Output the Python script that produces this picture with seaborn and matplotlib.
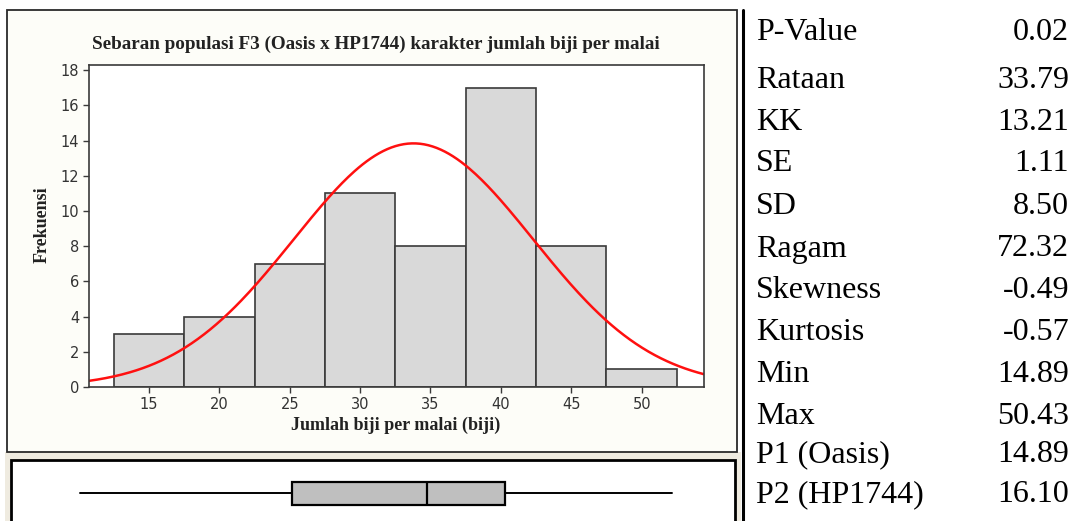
import numpy as np
import pandas as pd
import matplotlib
matplotlib.use("Agg")
import matplotlib.pyplot as plt
from matplotlib.patches import Rectangle
from matplotlib.lines import Line2D
import seaborn as sns

# ---------------- data ----------------
bin_centers = [15, 20, 25, 30, 35, 40, 45, 50]
counts = [3, 4, 7, 11, 8, 17, 8, 1]
bin_width = 5
mean_val = 33.79
sd_val = 8.50

box_min = 14.89
box_q1 = 27.6
box_median = 35.7
box_q3 = 40.4
box_max = 50.43

x_ticks = [15, 20, 25, 30, 35, 40, 45, 50]
y_ticks = [0, 2, 4, 6, 8, 10, 12, 14, 16, 18]

stat_labels = ["P-Value", "Rataan", "KK", "SE", "SD", "Ragam", "Skewness",
               "Kurtosis", "Min", "Max", "P1 (Oasis)", "P2 (HP1744)"]
stat_values = ["0.02", "33.79", "13.21", "1.11", "8.50", "72.32", "-0.49",
               "-0.57", "14.89", "50.43", "14.89", "16.10"]

title = "Sebaran populasi F3 (Oasis x HP1744) karakter jumlah biji per malai"
xlabel = "Jumlah biji per malai (biji)"
ylabel = "Frekuensi"

# ---------------- layout helpers ----------------
W, H = 1079, 521
sns.set_style("ticks")
plt.rcParams["font.family"] = ["DejaVu Sans"]

fig = plt.figure(figsize=(W / 100, H / 100), dpi=100)
fig.patch.set_facecolor("white")


def box_px(l, t, r, b):
    return [l / W, 1 - b / H, (r - l) / W, (b - t) / H]


def fig_rect(l, t, r, b, **kw):
    rect = Rectangle((l / W, 1 - b / H), (r - l) / W, (b - t) / H,
                     transform=fig.transFigure, **kw)
    fig.add_artist(rect)
    return rect


def fx(x):
    return x / W


def fy(y):
    return 1 - y / H


# panel backgrounds
fig_rect(5, 452, 741, 523, facecolor="#efebe0", edgecolor="none", zorder=-10)
fig_rect(7, 10, 737, 452, facecolor="#fdfdf8", edgecolor="#2a2a2a",
         linewidth=1.3, zorder=-9)
fig_rect(11, 460, 735, 526, facecolor="white", edgecolor="black",
         linewidth=2.0, zorder=-9)

# ---------------- histogram ----------------
ax = fig.add_axes(box_px(89, 65, 704, 387))
ax.set_facecolor("white")
edges = [c - bin_width / 2 for c in bin_centers] + [bin_centers[-1] + bin_width / 2]
sns.histplot(x=bin_centers, weights=counts, bins=edges, ax=ax,
             color="#d9d9d9", edgecolor="#3a3a3a", linewidth=1.2, alpha=1.0)

xlim = (10.74, 54.43)
xs = np.linspace(xlim[0], xlim[1], 300)
n_total = sum(counts)
ys = n_total * bin_width * np.exp(-0.5 * ((xs - mean_val) / sd_val) ** 2) / (sd_val * np.sqrt(2 * np.pi))
sns.lineplot(x=xs, y=ys, ax=ax, color="#ff1010", linewidth=1.8)

ax.set_xlim(*xlim)
ax.set_ylim(0, 18.3)
ax.set_xticks(x_ticks)
ax.set_yticks(y_ticks)
ax.set_xlabel("")
ax.set_ylabel("")
for s in ax.spines.values():
    s.set_visible(True)
    s.set_color("#3a3a3a")
    s.set_linewidth(1.2)
ax.tick_params(axis="both", direction="out", length=4, width=1,
               color="#3a3a3a", labelcolor="#333333", labelsize=10.5,
               bottom=True, left=True, top=False, right=False, pad=3)

fig.text(fx(376), fy(44), title, ha="center", va="center",
         fontsize=13.8, fontweight="bold", family="Liberation Serif", color="#222222")
fig.text(fx(396), fy(425), xlabel, ha="center", va="center",
         fontsize=13, fontweight="bold", family="Liberation Serif", color="#222222")
fig.text(fx(42), fy(225), ylabel, ha="center", va="center", rotation=90,
         fontsize=13, fontweight="bold", family="Liberation Serif", color="#222222")

# ---------------- boxplot ----------------
bax = fig.add_axes(box_px(11, 460, 735, 521))
bax.set_xlim(10.75, 54.2)
bax.set_ylim(-28, 33)
stats = [dict(med=box_median, q1=box_q1, q3=box_q3, whislo=box_min, whishi=box_max, fliers=[])]
bax.bxp(stats, positions=[0], widths=23, orientation="horizontal", showcaps=False,
        showfliers=False, patch_artist=True,
        boxprops=dict(facecolor="#bfbfbf", edgecolor="black", linewidth=1.6),
        medianprops=dict(color="black", linewidth=1.6),
        whiskerprops=dict(color="black", linewidth=1.4))
bax.axis("off")

# ---------------- stats table ----------------
fig.add_artist(Line2D([fx(743), fx(743)], [fy(10), fy(521)], color="black",
                      linewidth=2.2, transform=fig.transFigure))
row_centers = [30, 77, 120, 161, 204, 246, 288, 330, 372, 413, 452, 492]
for lab, val, yc in zip(stat_labels, stat_values, row_centers):
    fig.text(fx(756), fy(yc + 10.5), lab, ha="left", va="baseline",
             fontsize=23, family="Liberation Serif", color="black")
    fig.text(fx(1069), fy(yc + 10.5), val, ha="right", va="baseline",
             fontsize=23, family="Liberation Serif", color="black")

fig.savefig("out.png", dpi=100)
